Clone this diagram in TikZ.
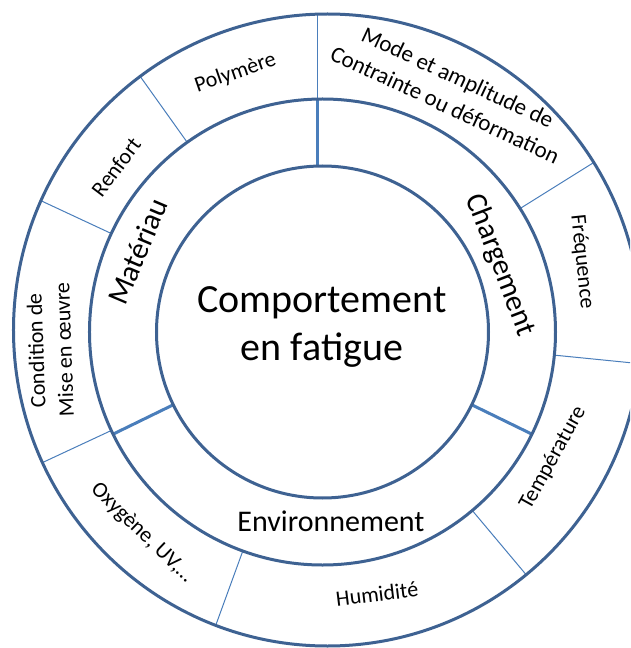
\documentclass[tikz,border=0pt]{standalone}
\usepackage{fontspec}
\setmainfont{Carlito}
\definecolor{ringblue}{RGB}{62,98,146}
\definecolor{divblue}{RGB}{74,126,187}
\begin{document}
\begin{tikzpicture}[x=1pt,y=1pt,
  ring/.style={draw=ringblue, line width=3pt},
  thickdiv/.style={draw=divblue, line width=3pt},
  thindiv/.style={draw=divblue, line width=1pt},
  hub/.style={font=\fontsize{40}{48}\selectfont, inner sep=0pt},
  sector/.style={font=\fontsize{30}{36}\selectfont, inner sep=0pt},
  leaf/.style={font=\fontsize{22}{28}\selectfont, align=center, inner sep=0pt}]
% centre of inner circles = pixel (322.5,332)
\useasboundingbox (-322.5,-316) rectangle (307.5,332);
\clip (-322.5,-316) rectangle (307.5,332);
\fill[white] (-322.5,-316) rectangle (307.5,332);

% thin dividers in the outer ring
\begin{scope}
  \clip (5,2) ellipse [x radius=314, y radius=316];
  \draw[thindiv] (-4.5,233) -- (-4.5,340);
  \foreach \a in {125.5,155,205,250,-50,-5.7,32}
    \draw[thindiv] (\a:233) -- (\a:340);
\end{scope}

% thick dividers in the middle ring
\draw[thickdiv] (-4.5,166) -- (-4.5,233);
\draw[thickdiv] (-26:166) -- (-26:233);
\draw[thickdiv] (206:166) -- (206:233);

% circles
\draw[ring] (0,0) circle (166);
\draw[ring] (0,0) circle (233);
\draw[ring] (5,2) ellipse [x radius=314, y radius=316];

% centre text
\node[hub, anchor=base] (t1) at (-0.5,20) {Comportement};
\node[hub, anchor=base] (t2) at (-0.5,-28) {en fatigue};

% middle ring labels
\node[sector, rotate=67] (mat) at (-185,80.5) {Matériau};
\node[sector, rotate=-69] (charg) at (177.5,67) {Chargement};
\node[sector, anchor=base] (env) at (8.5,-199) {Environnement};

% outer ring labels
\node[leaf, rotate=19] (poly) at (-87,259) {Polymère};
\node[leaf, rotate=53] (renf) at (-206.5,165) {Renfort};
\node[leaf, rotate=92] (cond) at (-272.5,-18) {Condition de\\Mise en œuvre};
\node[leaf, rotate=-44] (oxy) at (-180.5,-201) {Oxygène, UV,…};
\node[leaf, rotate=7] (hum) at (54.5,-262) {Humidité};
\node[leaf, rotate=61] (temp) at (230.5,-126) {Température};
\node[leaf, rotate=-84] (freq) at (259.5,70) {Fréquence};
\node[leaf, rotate=-25, font=\fontsize{23}{30}\selectfont] (mode) at (129,241) {Mode et amplitude de\\Contrainte ou déformation};
\end{tikzpicture}
\end{document}
